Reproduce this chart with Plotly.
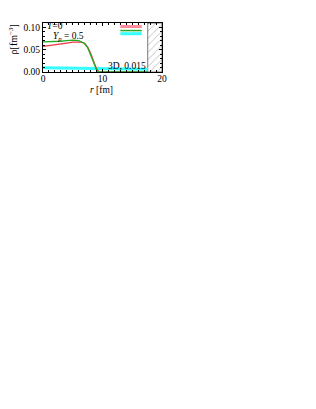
import plotly.graph_objects as go

r_red = [0, 1, 2, 3, 4, 5, 6, 6.5, 7, 7.5, 8, 8.5, 9, 9.4, 10, 12, 14, 16, 17.6]
rho_red = [0.0575, 0.059, 0.061, 0.063, 0.065, 0.067, 0.068, 0.067, 0.064, 0.056, 0.042, 0.024, 0.007, 0.0, 0.0, 0.0, 0.0, 0.0, 0.0]

r_green = [0, 1, 2, 3, 4, 5, 6, 6.5, 7, 7.5, 8, 8.5, 9, 9.3, 10, 12, 14, 16, 17.6]
rho_green = [0.0675, 0.0675, 0.068, 0.069, 0.0705, 0.0715, 0.0705, 0.068, 0.064, 0.055, 0.040, 0.022, 0.005, 0.0, 0.0, 0.0, 0.0, 0.0, 0.0]

r_cyan = [0, 2, 4, 6, 8, 10, 12, 14, 16, 17.6]
rho_cyan = [0.0095, 0.009, 0.0085, 0.008, 0.0075, 0.007, 0.0067, 0.0064, 0.0062, 0.006]

hatch_r = [17.6, 20]
y_max = 0.11

FONT = "Liberation Serif"

fig = go.Figure()

# hatched excluded region
fig.add_trace(go.Scatter(
    x=[hatch_r[0], hatch_r[1], hatch_r[1], hatch_r[0], hatch_r[0]],
    y=[0, 0, y_max, y_max, 0],
    fill="toself", mode="lines",
    line=dict(color="#555", width=0.8),
    fillcolor="rgba(0,0,0,0)",
    fillpattern=dict(shape="/", fgcolor="#666", bgcolor="white", size=5, solidity=0.15),
    showlegend=False, hoverinfo="skip"))

fig.add_trace(go.Scatter(x=r_cyan, y=rho_cyan, mode="lines",
                         line=dict(color="#33ffff", width=3), showlegend=False))
fig.add_trace(go.Scatter(x=r_red, y=rho_red, mode="lines",
                         line=dict(color="#ee3344", width=1.3), showlegend=False))
fig.add_trace(go.Scatter(x=r_green, y=rho_green, mode="lines",
                         line=dict(color="#22aa22", width=1.3), showlegend=False))

# legend line samples
leg_x = [13.0, 16.6]
for yv, col, w in [(0.102, "#ff8899", 3), (0.093, "#22aa22", 1.5), (0.086, "#33ffff", 3)]:
    fig.add_trace(go.Scatter(x=leg_x, y=[yv, yv], mode="lines",
                             line=dict(color=col, width=w), showlegend=False, hoverinfo="skip"))

fig.add_annotation(x=0.4, y=0.1025, xref="x", yref="y", text="<i>T</i>=0", showarrow=False,
                   xanchor="left", yanchor="middle", font=dict(family=FONT, size=9.5, color="black"))
fig.add_annotation(x=1.3, y=0.079, xref="x", yref="y", text="<i>Y</i><sub><i>p</i></sub> = 0.5", showarrow=False,
                   xanchor="left", yanchor="middle", font=dict(family=FONT, size=9.5, color="black"))
fig.add_annotation(x=17.6, y=0.0145, xref="x", yref="y", text="3D, 0.015", showarrow=False,
                   xanchor="right", yanchor="middle", font=dict(family=FONT, size=9.5, color="black"))

# axis titles
fig.add_annotation(x=0.49, y=-0.37, xref="paper", yref="paper", text="<i>r</i> [fm]", showarrow=False,
                   xanchor="center", yanchor="middle", font=dict(family=FONT, size=9.5, color="black"))
fig.add_annotation(x=-0.25, y=0.67, xref="paper", yref="paper", text="ρ[fm<sup>−3</sup>]", showarrow=False,
                   textangle=-90, xanchor="center", yanchor="middle", font=dict(family=FONT, size=10, color="black"))

axis_common = dict(showgrid=False, zeroline=False, showline=True, linecolor="black", linewidth=1,
                   mirror="ticks", ticks="inside", ticklen=3, tickcolor="black", tickwidth=0.8,
                   automargin=False,
                   tickfont=dict(family=FONT, size=9.5, color="black"))

fig.update_xaxes(range=[0, 20], tickvals=[0, 10, 20], ticktext=["0", "10", "20"],
                 minor=dict(dtick=1, ticks="inside", ticklen=2, tickcolor="black"),
                 ticklabelstandoff=-2,
                 **axis_common)
fig.update_yaxes(range=[0, y_max], tickvals=[0, 0.05, 0.10], ticktext=["0.00", "0.05", "0.10"],
                 minor=dict(dtick=0.01, ticks="inside", ticklen=2, tickcolor="black"),
                 **axis_common)

fig.update_layout(width=300, height=393, paper_bgcolor="white", plot_bgcolor="white",
                  margin=dict(l=35, r=146, t=15, b=329), showlegend=False)

fig.write_html("out.html")
